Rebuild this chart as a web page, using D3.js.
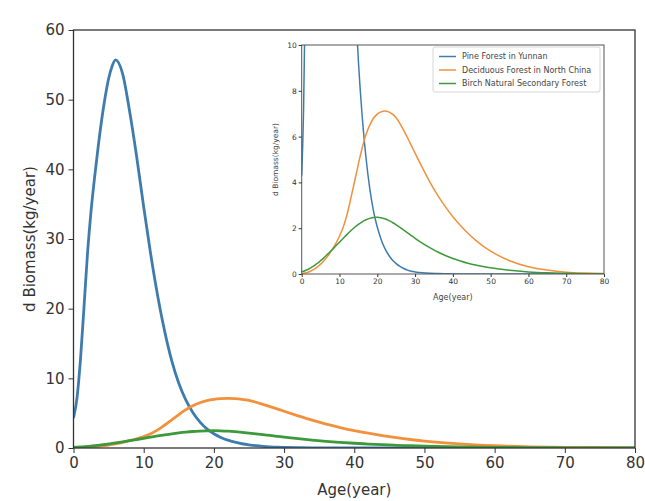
<!DOCTYPE html>
<html>
<head>
<meta charset="utf-8">
<script src="https://cdn.jsdelivr.net/npm/d3@7"></script>
<style>
  body { margin: 0; background: #fff; }
  svg { display: block; font-family: "DejaVu Sans", sans-serif; }
  .axis text { fill: #333; }
  .axis path, .axis line { stroke: #333; }
</style>
</head>
<body>
<script>
const ages = [0, 0.5, 1, 1.5, 2, 2.5, 3, 3.5, 4, 4.5, 5, 5.5, 6, 7, 8, 9, 10,
  11, 12, 13, 14, 15, 16, 17, 18, 19, 20,
  21, 22, 23, 24, 25, 26, 27, 28, 29, 30, 32, 34, 36, 38, 40, 42, 44, 46, 48, 50,
  55, 60, 65, 70, 75, 80];

const pineYunnan = [4.3, 7.2, 12.8, 20.3, 28.0, 34.0, 38.8, 43.1, 47.0, 50.3, 53.0, 54.8, 55.7, 53.7, 48.3, 41.8, 34.6,
  27.8, 21.8, 16.7, 12.5, 9.3, 6.9, 5.1, 3.75, 2.75, 2.05,
  1.52, 1.12, 0.83, 0.61, 0.45, 0.33, 0.24, 0.17, 0.12, 0.09, 0.05, 0.03, 0.02, 0.01, 0, 0, 0, 0, 0, 0,
  0, 0, 0, 0, 0, 0];

const deciduousNorthChina = [0.02, 0.03, 0.05, 0.07, 0.1, 0.14, 0.18, 0.23, 0.29, 0.36, 0.43, 0.51, 0.6, 0.8, 1.05, 1.33, 1.65,
  2.05, 2.6, 3.3, 4.05, 4.8, 5.5, 6.08, 6.5, 6.8, 6.98,
  7.08, 7.12, 7.08, 6.98, 6.82, 6.57, 6.27, 5.95, 5.62, 5.28, 4.62, 3.99, 3.43, 2.94, 2.5, 2.12, 1.78, 1.48, 1.22, 1.0,
  0.58, 0.32, 0.17, 0.08, 0.04, 0.02];

const birchSecondary = [0.1, 0.12, 0.15, 0.19, 0.23, 0.28, 0.33, 0.39, 0.45, 0.51, 0.58, 0.65, 0.73, 0.89, 1.05, 1.22, 1.39,
  1.56, 1.73, 1.89, 2.04, 2.17, 2.28, 2.37, 2.43, 2.47, 2.48,
  2.46, 2.41, 2.34, 2.25, 2.15, 2.04, 1.92, 1.8, 1.68, 1.56, 1.34, 1.14, 0.96, 0.81, 0.68, 0.57, 0.47, 0.39, 0.33, 0.27,
  0.16, 0.09, 0.05, 0.03, 0.015, 0.01];

const seriesNames = ["Pine Forest in Yunnan", "Deciduous Forest in North China", "Birch Natural Secondary Forest"];
const seriesColors = ["#3f7cae", "#f2913c", "#3c9a3c"];
const xTicks = [0, 10, 20, 30, 40, 50, 60, 70, 80];
const yTicksMain = [0, 10, 20, 30, 40, 50, 60];
const yTicksInset = [0, 2, 4, 6, 8, 10];

const width = 645;
const height = 501;

const series = [pineYunnan, deciduousNorthChina, birchSecondary].map((vals, i) => ({
  name: seriesNames[i],
  color: seriesColors[i],
  points: ages.map((a, j) => ({ age: a, v: vals[j] }))
}));

const svg = d3.select("body").append("svg")
  .attr("width", width)
  .attr("height", height);

// ---------- main axes ----------
const x = d3.scaleLinear().domain([0, 80]).range([73.5, 635]);
const y = d3.scaleLinear().domain([0, 60]).range([448, 30]);

const main = svg.append("g");

main.append("defs").append("clipPath").attr("id", "clipMain")
  .append("rect")
  .attr("x", x(0)).attr("y", y(60))
  .attr("width", x(80) - x(0)).attr("height", y(0) - y(60));

const line = d3.line()
  .x((d) => x(d.age))
  .y((d) => y(d.v))
  .curve(d3.curveMonotoneX);

main.append("g").attr("clip-path", "url(#clipMain)")
  .selectAll("path")
  .data(series)
  .join("path")
  .attr("fill", "none")
  .attr("stroke", (d) => d.color)
  .attr("stroke-width", 2.8)
  .attr("d", (d) => line(d.points));

main.append("rect")
  .attr("x", x(0)).attr("y", y(60))
  .attr("width", x(80) - x(0)).attr("height", y(0) - y(60))
  .attr("fill", "none")
  .attr("stroke", "#333")
  .attr("stroke-width", 1.3);

main.append("g")
  .attr("class", "axis")
  .attr("transform", `translate(0,${y(0)})`)
  .call(d3.axisBottom(x).tickValues(xTicks).tickSize(5).tickSizeOuter(0).tickPadding(4))
  .call((g) => g.select(".domain").remove())
  .selectAll("text").attr("font-size", 15).attr("font-family", "DejaVu Sans");

main.append("g")
  .attr("class", "axis")
  .attr("transform", `translate(${x(0)},0)`)
  .call(d3.axisLeft(y).tickValues(yTicksMain).tickSize(5).tickSizeOuter(0).tickPadding(4))
  .call((g) => g.select(".domain").remove())
  .selectAll("text").attr("font-size", 15).attr("font-family", "DejaVu Sans");

main.append("text")
  .attr("x", (x(0) + x(80)) / 2)
  .attr("y", 495)
  .attr("text-anchor", "middle")
  .attr("font-size", 15)
  .attr("fill", "#333")
  .text("Age(year)");

main.append("text")
  .attr("transform", `translate(35,${(y(0) + y(60)) / 2}) rotate(-90)`)
  .attr("text-anchor", "middle")
  .attr("font-size", 15)
  .attr("fill", "#333")
  .text("d Biomass(kg/year)");

// ---------- inset ----------
const xi = d3.scaleLinear().domain([0, 80]).range([301.7, 604]);
const yi = d3.scaleLinear().domain([0, 10]).range([274, 45]);

const inset = svg.append("g");

inset.append("rect")
  .attr("x", xi(0)).attr("y", yi(10))
  .attr("width", xi(80) - xi(0)).attr("height", yi(0) - yi(10))
  .attr("fill", "#fff");

inset.append("defs").append("clipPath").attr("id", "clipInset")
  .append("rect")
  .attr("x", xi(0)).attr("y", yi(10))
  .attr("width", xi(80) - xi(0)).attr("height", yi(0) - yi(10));

const lineInset = d3.line()
  .x((d) => xi(d.age))
  .y((d) => yi(d.v))
  .curve(d3.curveMonotoneX);

inset.append("g").attr("clip-path", "url(#clipInset)")
  .selectAll("path")
  .data(series)
  .join("path")
  .attr("fill", "none")
  .attr("stroke", (d) => d.color)
  .attr("stroke-width", 1.5)
  .attr("d", (d) => lineInset(d.points));

inset.append("rect")
  .attr("x", xi(0)).attr("y", yi(10))
  .attr("width", xi(80) - xi(0)).attr("height", yi(0) - yi(10))
  .attr("fill", "none")
  .attr("stroke", "#555")
  .attr("stroke-width", 1);

inset.append("g")
  .attr("class", "axis")
  .attr("transform", `translate(0,${yi(0)})`)
  .call(d3.axisBottom(xi).tickValues(xTicks).tickSize(3).tickSizeOuter(0).tickPadding(2))
  .call((g) => g.select(".domain").remove())
  .selectAll("text").attr("font-size", 7.5).attr("fill", "#555").attr("font-family", "DejaVu Sans");

inset.append("g")
  .attr("class", "axis")
  .attr("transform", `translate(${xi(0)},0)`)
  .call(d3.axisLeft(yi).tickValues(yTicksInset).tickSize(3).tickSizeOuter(0).tickPadding(2))
  .call((g) => g.select(".domain").remove())
  .selectAll("text").attr("font-size", 7.5).attr("fill", "#555").attr("font-family", "DejaVu Sans");

inset.append("text")
  .attr("x", (xi(0) + xi(80)) / 2)
  .attr("y", 300)
  .attr("text-anchor", "middle")
  .attr("font-size", 8)
  .attr("fill", "#444")
  .text("Age(year)");

inset.append("text")
  .attr("transform", `translate(278,${(yi(0) + yi(10)) / 2}) rotate(-90)`)
  .attr("text-anchor", "middle")
  .attr("font-size", 7.5)
  .attr("fill", "#444")
  .text("d Biomass(kg/year)");

// legend
const legend = inset.append("g").attr("transform", "translate(433,47)");

legend.append("rect")
  .attr("width", 167)
  .attr("height", 45)
  .attr("rx", 2)
  .attr("fill", "#fff")
  .attr("stroke", "#ccc")
  .attr("stroke-width", 0.8);

const items = legend.selectAll("g.item")
  .data(series)
  .join("g")
  .attr("class", "item")
  .attr("transform", (d, i) => `translate(0,${9.5 + i * 13.5})`);

items.append("line")
  .attr("x1", 6).attr("x2", 23)
  .attr("stroke", (d) => d.color)
  .attr("stroke-width", 1.5);

items.append("text")
  .attr("x", 29)
  .attr("dy", "0.35em")
  .attr("font-size", 8)
  .attr("fill", "#444")
  .text((d) => d.name);
</script>
</body>
</html>
